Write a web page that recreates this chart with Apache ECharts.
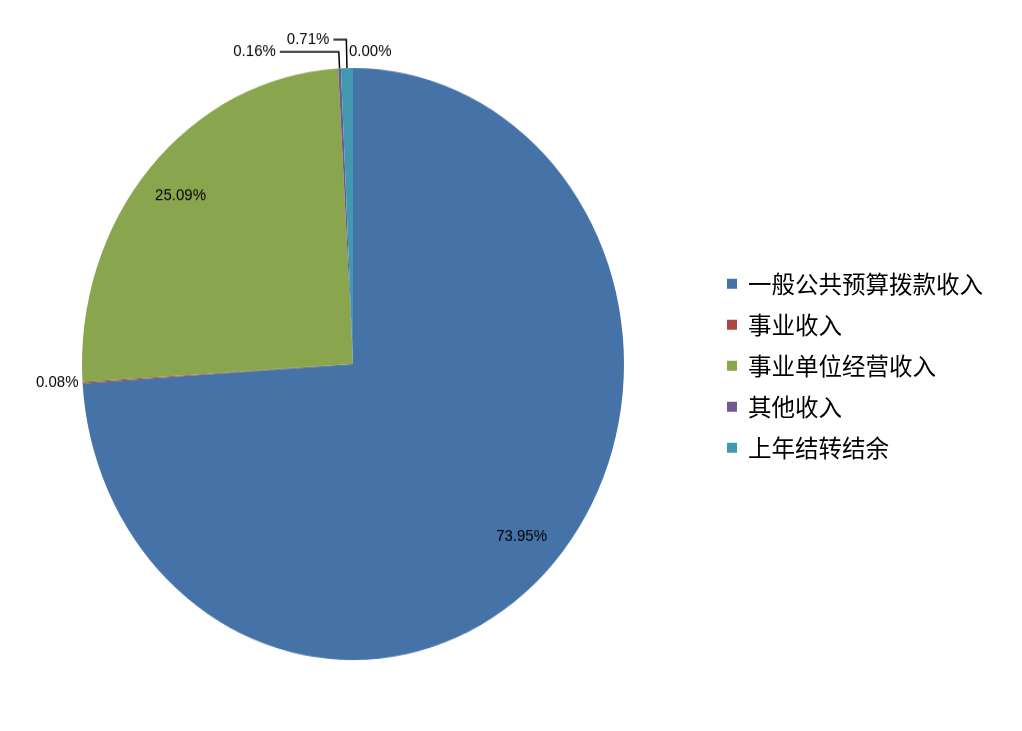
<!DOCTYPE html>
<html><head><meta charset="utf-8">
<script src="https://cdn.jsdelivr.net/npm/echarts@6/dist/echarts.min.js"></script>
<style>
html,body{margin:0;padding:0;background:#fff;width:1022px;height:731px;overflow:hidden}
#pie,#legend{position:absolute;left:0;top:0;width:1022px;height:731px}
#pie{transform:scaleY(1.0923);transform-origin:353px 364px}
</style></head><body>
<div id="pie"></div><div id="legend"></div>
<script>
// ---- data ----
const categories = ['一般公共预算拨款收入', '事业收入', '事业单位经营收入', '其他收入', '上年结转结余', ''];
const legendNames = ['一般公共预算拨款收入', '事业收入', '事业单位经营收入', '其他收入', '上年结转结余'];
const values = [73.95, 0.08, 25.09, 0.16, 0.71, 0.00];
const colors = ['#4572A7', '#AA4643', '#89A54E', '#71588F', '#4198AF', '#DB843D'];

// ---- label styling (which labels sit inside / outside) ----
const insideLabelIdx = [0, 2];
const outsideStyle = {
  1: {len: 0, len2: 0, line: false},
  3: {len: 15, len2: 59, line: true},
  4: {len: 26, len2: 13, line: true},
  5: {len: 15, len2: 0, line: false}
};
const fmt = p => p.value.toFixed(2) + '%';
const labelFont = {color: '#000', fontFamily: 'Liberation Sans', fontSize: 15};

const CENTER = [353, 364];
const R = 271;

const pieChart = echarts.init(document.getElementById('pie'), null, {renderer: 'canvas'});
pieChart.setOption({
  animation: false,
  color: colors,
  series: [
    {
      type: 'pie', center: CENTER, radius: R, startAngle: 90, clockwise: true,
      avoidLabelOverlap: false, silent: true, emphasis: {disabled: true},
      itemStyle: {borderWidth: 0},
      label: Object.assign({show: true, position: 'outside', formatter: fmt, distanceToLabelLine: 4}, labelFont),
      labelLine: {show: true, lineStyle: {color: '#000', width: 1.5}},
      labelLayout: p => (p.dataIndex === 5 ? {align: 'left'} : {}),
      data: values.map((v, i) => {
        const o = outsideStyle[i];
        return {
          name: categories[i], value: v, itemStyle: {color: colors[i]},
          label: o ? {show: true} : {show: false},
          labelLine: o ? {show: o.line, length: o.len, length2: o.len2} : {show: false}
        };
      })
    },
    {
      type: 'pie', center: CENTER, radius: [185, R], startAngle: 90, clockwise: true,
      avoidLabelOverlap: false, silent: true, emphasis: {disabled: true},
      itemStyle: {color: 'rgba(0,0,0,0)', borderWidth: 0},
      label: Object.assign({show: true, position: 'inside', formatter: fmt}, labelFont),
      labelLine: {show: false},
      data: values.map((v, i) => ({
        name: categories[i], value: v,
        label: {show: insideLabelIdx.indexOf(i) >= 0}
      }))
    }
  ]
});

const legendChart = echarts.init(document.getElementById('legend'), null, {renderer: 'canvas'});
legendChart.setOption({
  animation: false,
  color: colors,
  legend: {
    orient: 'vertical', left: 722, top: 267,
    itemWidth: 22, itemHeight: 10, itemGap: 17.5,
    icon: 'path://M0,0H10V10H0Z',
    selectedMode: false,
    data: legendNames,
    textStyle: {fontFamily: 'Noto Sans CJK SC', fontSize: 23.5, lineHeight: 23.5, color: '#000'}
  },
  series: [{
    type: 'pie', center: [-200, -200], radius: 0, silent: true,
    label: {show: false}, labelLine: {show: false},
    data: categories.map((c, i) => ({name: c, value: values[i], itemStyle: {color: colors[i]}}))
  }]
});
</script>
</body></html>
